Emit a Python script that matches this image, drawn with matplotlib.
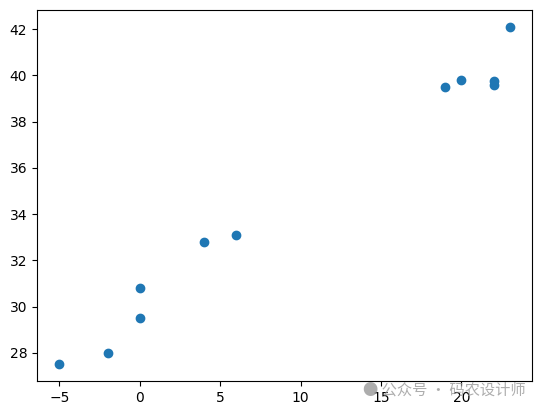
import matplotlib
matplotlib.use("Agg")
import matplotlib.pyplot as plt

# data
x = [-5, -2, 0, 0, 4, 6, 19, 20, 22, 22, 23]
y = [27.5, 28.0, 29.5, 30.8, 32.8, 33.1, 39.5, 39.8, 39.6, 39.75, 42.1]

fig = plt.figure(figsize=(5.43, 4.13), dpi=100)
ax = fig.add_axes([0.068, 0.077, 0.912, 0.899])
ax.scatter(x, y)

# watermark
fig.text(0.668, 0.055, "● 公众号 · 码农设计师", fontsize=11, color="#999999",
         alpha=0.8, family=["Noto Sans CJK SC", "DejaVu Sans"], va="center")

fig.savefig("out.png")
